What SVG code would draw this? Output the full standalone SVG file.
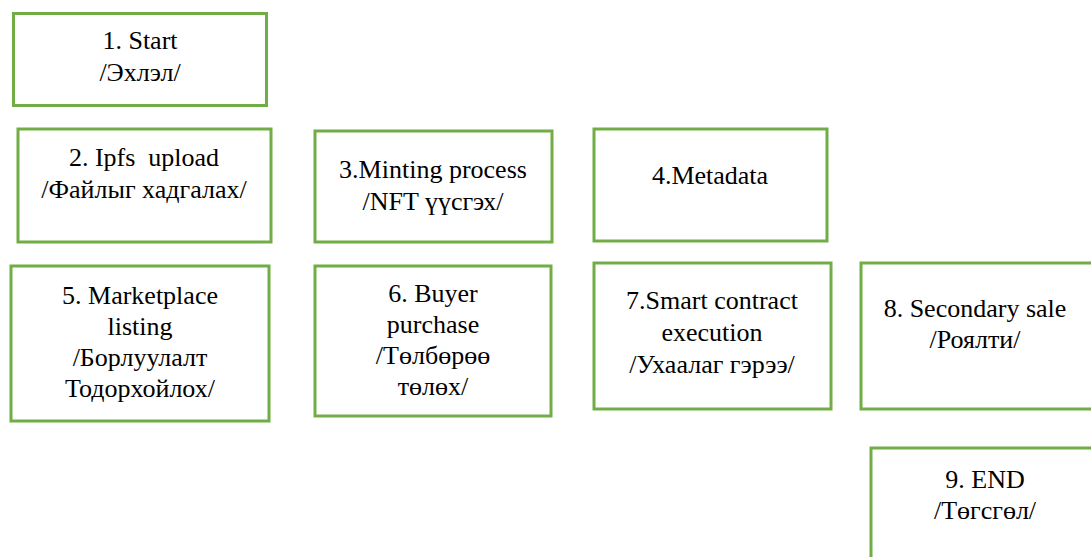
<svg xmlns="http://www.w3.org/2000/svg" width="1091" height="557" viewBox="0 0 1091 557">
<style>
.box{fill:#fff;stroke:#70AD47;stroke-width:3}
.t{font-family:"Times New Roman",Times,"Liberation Serif","DejaVu Serif",serif;font-size:26px;fill:#000;text-anchor:middle}
</style>
<rect width="1091" height="557" fill="#fff"/>
<g id="node1"><rect class="box" x="13.5" y="13.5" width="253" height="92"/><text class="t" x="140" y="49">1. Start</text><text class="t" x="140" y="81">/Эхлэл/</text></g>
<g id="node2"><rect class="box" x="18" y="129" width="253" height="113"/><text class="t" x="144" y="166" xml:space="preserve">2. Ipfs  upload</text><text class="t" x="144" y="198">/Файлыг хадгалах/</text></g>
<g id="node3"><rect class="box" x="315" y="131" width="237" height="111"/><text class="t" x="433" y="178">3.Minting process</text><text class="t" x="433" y="210">/NFT үүсгэх/</text></g>
<g id="node4"><rect class="box" x="594" y="129" width="233" height="112"/><text class="t" x="710" y="184">4.Metadata</text></g>
<g id="node5"><rect class="box" x="11" y="266" width="258" height="155"/><text class="t" x="140" y="304">5. Marketplace</text><text class="t" x="140" y="335">listing</text><text class="t" x="140" y="366">/Борлуулалт</text><text class="t" x="140" y="397">Тодорхойлох/</text></g>
<g id="node6"><rect class="box" x="315" y="266" width="236" height="150"/><text class="t" x="433" y="302">6. Buyer</text><text class="t" x="433" y="333">purchase</text><text class="t" x="433" y="364">/Төлбөрөө</text><text class="t" x="433" y="395">төлөх/</text></g>
<g id="node7"><rect class="box" x="594" y="263" width="237" height="146"/><text class="t" x="712" y="309">7.Smart contract</text><text class="t" x="712" y="341">execution</text><text class="t" x="712" y="373">/Ухаалаг гэрээ/</text></g>
<g id="node8"><rect class="box" x="861" y="263" width="232" height="146"/><text class="t" x="975" y="317">8. Secondary sale</text><text class="t" x="975" y="348">/Роялти/</text></g>
<g id="node9"><rect class="box" x="871" y="448" width="222" height="112"/><text class="t" x="985" y="488">9. END</text><text class="t" x="985" y="519">/Төгсгөл/</text></g>
<g id="connectors"></g>
</svg>
